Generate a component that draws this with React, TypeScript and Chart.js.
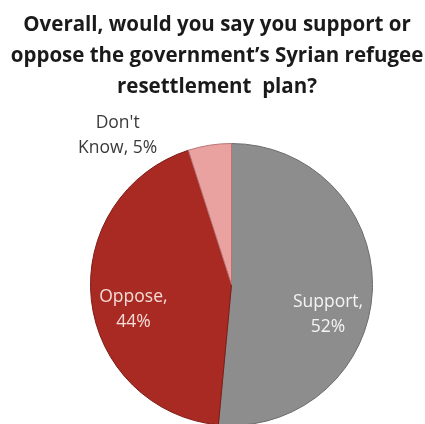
import React, { useEffect, useRef } from "react";
import { Chart, registerables } from "chart.js";

Chart.register(...registerables);

const TITLE_LINES = [
  "Overall, would you say you support or",
  "oppose the government\u2019s Syrian refugee",
  "resettlement  plan?",
];
const CATEGORIES = ["Support", "Oppose", "Don't Know"];
const VALUES = [52, 44, 5];
const LABEL_LINES = [
  ["Support,", "52%"],
  ["Oppose,", "44%"],
  ["Don't", "Know, 5%"],
];

const SLICE_COLORS = ["#8d8d8d", "#a82a22", "#eaa2a1"];
const SLICE_BORDERS = ["#6c6c6c", "#7e1c16", "#b87474"];
const LABEL_COLORS = ["#f4f4f4", "#f6dcd8", "#3a3a3a"];
// per-label placement: radius fraction and pixel nudge
const LABEL_PLACE = [
  { frac: 0.685, dx: 0, dy: 26 },
  { frac: 0.7, dx: 0, dy: 14 },
  { frac: 1.0, dx: -92, dy: -10 },
];

const titlePlugin = {
  id: "customTitle",
  afterDraw(chart: any) {
    const ctx = chart.ctx;
    ctx.save();
    ctx.fillStyle = "#1a1a1a";
    ctx.font = "bold 20.5px 'Open Sans'";
    ctx.textAlign = "center";
    ctx.textBaseline = "alphabetic";
    const baselines = [30.5, 61.5, 92.5];
    TITLE_LINES.forEach((t, i) => ctx.fillText(t, 217, baselines[i]));
    ctx.restore();
  },
};

const labelPlugin = {
  id: "sliceLabels",
  afterDatasetsDraw(chart: any) {
    const ctx = chart.ctx;
    const meta = chart.getDatasetMeta(0);
    ctx.save();
    ctx.font = "17.5px 'Open Sans'";
    ctx.textAlign = "center";
    ctx.textBaseline = "middle";
    meta.data.forEach((arc: any, i: number) => {
      const p = arc.getProps(["x", "y", "startAngle", "endAngle", "outerRadius"], true);
      const mid = (p.startAngle + p.endAngle) / 2;
      const pl = LABEL_PLACE[i];
      const r = p.outerRadius * pl.frac;
      const cx = p.x + Math.cos(mid) * r + pl.dx;
      const cy = p.y + Math.sin(mid) * r + pl.dy;
      ctx.fillStyle = LABEL_COLORS[i];
      const lines = LABEL_LINES[i];
      const lh = 25;
      lines.forEach((ln, j) => {
        ctx.fillText(ln, cx, cy + (j - (lines.length - 1) / 2) * lh);
      });
    });
    ctx.restore();
  },
};

export default function App() {
  const ref = useRef<HTMLCanvasElement | null>(null);
  useEffect(() => {
    if (!ref.current) return;
    const chart = new Chart(ref.current, {
      type: "pie",
      data: {
        labels: CATEGORIES,
        datasets: [
          {
            data: VALUES,
            backgroundColor: SLICE_COLORS,
            borderColor: SLICE_BORDERS,
            borderWidth: 1,
          },
        ],
      },
      options: {
        responsive: false,
        animation: false,
        layout: { padding: { left: 90, right: 52, top: 143, bottom: 0 } },
        plugins: {
          legend: { display: false },
          tooltip: { enabled: false },
          title: { display: false },
        },
      },
      plugins: [titlePlugin, labelPlugin],
    });
    return () => chart.destroy();
  }, []);
  return (
    <div
      style={{
        position: "fixed",
        left: 0,
        top: 0,
        width: 425,
        height: 424,
        overflow: "hidden",
        background: "#ffffff",
      }}
    >
      <canvas ref={ref} width={425} height={426} style={{ display: "block" }} />
    </div>
  );
}
